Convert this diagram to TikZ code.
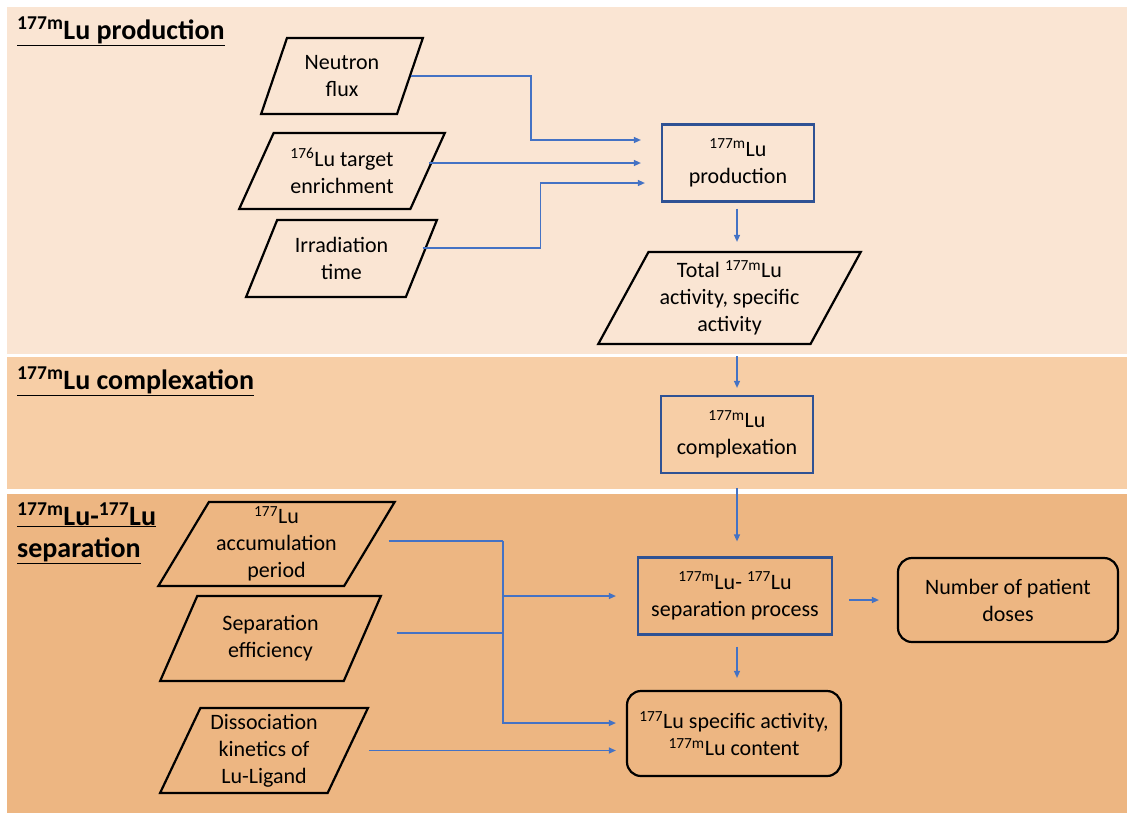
\documentclass[tikz,border=0pt]{standalone}
\usepackage{fontspec}
\setmainfont{Carlito}
\usetikzlibrary{arrows.meta,shapes.geometric}
\definecolor{bandone}{RGB}{250,229,211}
\definecolor{bandtwo}{RGB}{247,206,166}
\definecolor{bandthree}{RGB}{237,182,130}
\definecolor{flowblue}{RGB}{68,114,196}
\definecolor{boxblue}{RGB}{47,82,148}
\newcommand{\Lum}{\textsuperscript{177m}Lu}
\newcommand{\Lug}{\textsuperscript{177}Lu}
\tikzset{
  txt/.style={font=\fontsize{22}{27}\selectfont, align=center, inner sep=0pt},
  datanode/.style={txt, draw=black, line width=2.2pt, trapezium,
    trapezium stretches=true, trapezium left angle=62, trapezium right angle=118},
  procnode/.style={txt, draw=boxblue, line width=2.2pt, rectangle,
    minimum width=152pt, minimum height=77pt},
  endnode/.style={txt, draw=black, line width=2.2pt, rectangle,
    rounded corners=14pt, minimum height=85pt},
  link/.style={draw=flowblue, line width=1.3pt},
  flow/.style={link, -{Triangle[length=7pt,width=6pt]}},
  bandtitle/.style={font=\fontsize{28}{32}\selectfont\bfseries, inner sep=0pt, anchor=base west}
}

\begin{document}
\begin{tikzpicture}[x=1pt, y=-1pt]
% background and bands
  \fill[white] (0,0) rectangle (1127,815);
  \useasboundingbox (0,0) rectangle (1127,815);
  \fill[bandone] (7,7) rectangle (1127,354);
  \fill[bandtwo] (7,357) rectangle (1127,489);
  \fill[bandthree] (7,494) rectangle (1127,813);
% band titles
  \node[bandtitle] (ttlprod) at (17,39) {\underline{\Lum{} production}};
  \node[bandtitle] (ttlcomp) at (17,389) {\underline{\Lum{} complexation}};
  \node[bandtitle] (ttlsepa) at (17,525) {\underline{\Lum-\Lug}};
  \node[bandtitle] (ttlsepb) at (17,557) {\underline{separation}};
% input parameters
  \node[datanode, minimum width=162pt, minimum height=76pt,
    trapezium left angle=67, trapezium right angle=113] (flux) at (342,76) {Neutron\\flux};
  \node[datanode, minimum width=206pt, minimum height=76pt,
    trapezium left angle=60, trapezium right angle=120] (targ) at (342,171) {\textsuperscript{176}Lu target\\enrichment};
  \node[datanode, minimum width=191pt, minimum height=77pt] (irrad) at (341.5,258.5) {Irradiation\\time};
  \node[datanode, minimum width=263pt, minimum height=92pt,
    trapezium left angle=60, trapezium right angle=120] (total) at (729.5,298) {Total \Lum\\activity, specific\\activity};
  \node[datanode, minimum width=237pt, minimum height=84pt,
    trapezium left angle=59, trapezium right angle=121] (accum) at (276.5,544) {\Lug\\accumulation\\period};
  \node[datanode, minimum width=221pt, minimum height=85pt] (effic) at (270.5,638.5) {Separation\\efficiency};
  \node[datanode, minimum width=208pt, minimum height=85pt,
    trapezium left angle=65, trapezium right angle=115] (dissoc) at (264,750.5) {Dissociation\\kinetics of\\Lu-Ligand};
% process steps
  \node[procnode] (prod) at (738,163) {\Lum\\production};
  \node[procnode] (comp) at (737,434.5) {\Lum\\complexation};
  \node[procnode, minimum width=194pt] (sepa) at (735,596) {\Lum- \Lug\\separation process};
% results
  \node[endnode, minimum width=220pt, minimum height=84pt] (doses) at (1008,600) {Number of patient\\doses};
  \node[endnode, minimum width=214pt] (result) at (734,733.5) {\Lug{} specific activity,\\\Lum{} content};
% production arrows
  \draw[flow, shorten >=20pt] (flux.right side) -- ++(120,0) |- ([yshift=23pt]prod.west);
  \draw[flow, shorten >=20pt] (targ.right side |- prod.west) -- (prod.west);
  \draw[flow, shorten >=16pt] ([yshift=10.5pt]irrad.right side) -- ++(118,0) |- ([yshift=-20pt]prod.west);
  \draw[flow, shorten <=6pt, shorten >=9pt] (comp.north |- prod.south) -- (comp.north |- total.top side);
  \draw[flow, shorten <=11pt, shorten >=7pt] (comp.north |- total.bottom side) -- (comp.north);
  \draw[flow, shorten <=14pt, shorten >=15pt] (comp.south) -- (comp.south |- sepa.north);
% separation arrows
  \coordinate (jx) at (503,541);
  \draw[link, shorten <=18pt] ([yshift=3pt]accum.right side) -- (jx);
  \draw[link, shorten <=33pt] ([yshift=5.5pt]effic.right side) -| (jx);
  \draw[flow, shorten >=10pt] (jx) |- ([yshift=10.5pt]result.west);
  \draw[flow, shorten >=21pt] (jx |- sepa.west) -- (sepa.west);
  \draw[flow, shorten <=20pt, shorten >=10pt] (dissoc.right side) -- (dissoc.right side -| result.west);
  \draw[flow, shorten <=16pt, shorten >=18pt] (doses.west -| sepa.east) -- (doses.west);
  \draw[flow, shorten <=11pt, shorten >=12pt] (comp.south |- sepa.south) -- (comp.south |- result.north);
\end{tikzpicture}
\end{document}
